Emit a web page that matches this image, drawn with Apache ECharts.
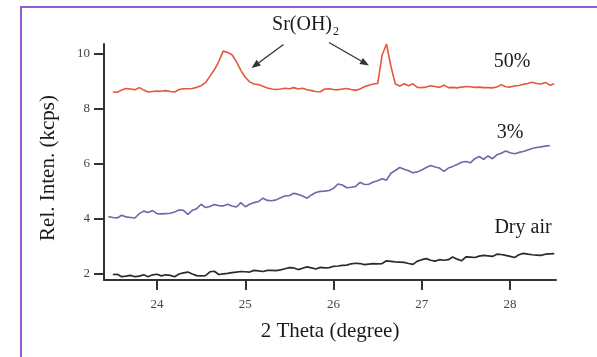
<!DOCTYPE html>
<html>
<head>
<meta charset="utf-8">
<script src="https://cdn.jsdelivr.net/npm/echarts@6/dist/echarts.min.js"></script>
<style>
  html, body { margin: 0; padding: 0; background: #fff; }
  #chart { width: 597px; height: 357px; }
</style>
</head>
<body>
<div id="chart"></div>
<script>
// 2 Theta sampling grid (degree)
const theta = [
  23.45, 23.50, 23.55, 23.60, 23.65, 23.70, 23.75, 23.80, 23.85, 23.90, 23.95,
  24.00, 24.05, 24.10, 24.15, 24.20, 24.25, 24.30, 24.35, 24.40, 24.45,
  24.50, 24.55, 24.60, 24.65, 24.70, 24.75, 24.80, 24.85, 24.90, 24.95,
  25.00, 25.05, 25.10, 25.15, 25.20, 25.25, 25.30, 25.35, 25.40, 25.45,
  25.50, 25.55, 25.60, 25.65, 25.70, 25.75, 25.80, 25.85, 25.90, 25.95,
  26.00, 26.05, 26.10, 26.15, 26.20, 26.25, 26.30, 26.35, 26.40, 26.45,
  26.50, 26.55, 26.60, 26.65, 26.70, 26.75, 26.80, 26.85, 26.90, 26.95,
  27.00, 27.05, 27.10, 27.15, 27.20, 27.25, 27.30, 27.35, 27.40, 27.45,
  27.50, 27.55, 27.60, 27.65, 27.70, 27.75, 27.80, 27.85, 27.90, 27.95,
  28.00, 28.05, 28.10, 28.15, 28.20, 28.25, 28.30, 28.35, 28.40, 28.45,
  28.50
];

// 50% humidity (kcps)
const rh50 = [
  null, 8.61, 8.60, 8.68, 8.74, 8.72, 8.69, 8.77, 8.68, 8.61, 8.63,
  8.65, 8.64, 8.66, 8.63, 8.61, 8.70, 8.73, 8.73, 8.74, 8.78,
  8.84, 8.95, 9.19, 9.42, 9.72, 10.10, 10.05, 9.97, 9.72, 9.40,
  9.15, 8.98, 8.90, 8.88, 8.82, 8.76, 8.72, 8.70, 8.72, 8.75,
  8.73, 8.77, 8.72, 8.75, 8.69, 8.66, 8.63, 8.62, 8.72, 8.73,
  8.70, 8.69, 8.72, 8.74, 8.70, 8.67, 8.72, 8.80, 8.86, 8.90,
  8.92, 9.95, 10.36, 9.55, 8.90, 8.83, 8.91, 8.84, 8.91, 8.78,
  8.77, 8.79, 8.84, 8.81, 8.78, 8.86, 8.77, 8.78, 8.76, 8.79,
  8.81, 8.80, 8.78, 8.79, 8.77, 8.77, 8.76, 8.79, 8.88, 8.80,
  8.79, 8.83, 8.85, 8.89, 8.92, 8.97, 8.92, 8.90, 8.96, 8.86,
  8.91
];

// 3% humidity (kcps)
const rh3 = [
  4.07, 4.04, 4.02, 4.12, 4.06, 4.04, 4.02, 4.18, 4.27, 4.22, 4.29,
  4.18, 4.17, 4.18, 4.19, 4.24, 4.31, 4.30, 4.15, 4.30, 4.36,
  4.52, 4.40, 4.44, 4.51, 4.47, 4.46, 4.52, 4.46, 4.42, 4.58,
  4.43, 4.52, 4.58, 4.62, 4.74, 4.66, 4.65, 4.68, 4.76, 4.82,
  4.84, 4.92, 4.88, 4.82, 4.74, 4.86, 4.95, 4.99, 5.00, 5.02,
  5.10, 5.26, 5.22, 5.12, 5.14, 5.17, 5.32, 5.24, 5.25, 5.33,
  5.38, 5.45, 5.40, 5.65, 5.75, 5.86, 5.80, 5.74, 5.67, 5.70,
  5.77, 5.86, 5.93, 5.88, 5.84, 5.72, 5.84, 5.90, 5.97, 6.05,
  6.08, 6.03, 6.18, 6.26, 6.16, 6.28, 6.18, 6.32, 6.38, 6.46,
  6.40, 6.36, 6.41, 6.44, 6.50, 6.55, 6.59, 6.61, 6.64, 6.66,
  null
];

// Dry air (kcps)
const dryAir = [
  null, 1.96, 1.97, 1.88, 1.90, 1.93, 1.88, 1.90, 1.95, 1.88, 1.95,
  1.97, 1.91, 1.95, 1.93, 1.88, 1.98, 2.02, 2.05, 1.98, 1.92,
  1.91, 1.92, 2.06, 2.08, 1.96, 1.98, 2.00, 2.03, 2.05, 2.07,
  2.06, 2.05, 2.11, 2.09, 2.07, 2.11, 2.11, 2.10, 2.13, 2.17,
  2.21, 2.20, 2.14, 2.19, 2.24, 2.20, 2.16, 2.22, 2.20, 2.21,
  2.26, 2.27, 2.29, 2.30, 2.35, 2.37, 2.36, 2.32, 2.34, 2.36,
  2.35, 2.36, 2.46, 2.44, 2.42, 2.41, 2.40, 2.36, 2.33, 2.45,
  2.50, 2.54, 2.48, 2.45, 2.50, 2.48, 2.50, 2.60, 2.52, 2.46,
  2.60, 2.59, 2.58, 2.63, 2.66, 2.64, 2.62, 2.70, 2.69, 2.66,
  2.62, 2.58, 2.68, 2.73, 2.70, 2.68, 2.67, 2.66, 2.70, 2.71,
  2.72
];

const xTicks = [24, 25, 26, 27, 28];
const yTicks = [2, 4, 6, 8, 10];

const FONT = '"Liberation Serif", "Times New Roman", serif';
const AXIS_COLOR = '#333';

const pairs = (ys) => theta.map((t, i) => [t, ys[i]]);

// small helper for the annotation arrows
function arrow(x1, y1, x2, y2) {
  const dx = x2 - x1, dy = y2 - y1;
  const len = Math.sqrt(dx * dx + dy * dy);
  const ux = dx / len, uy = dy / len;
  const hl = 9, hw = 3.5;
  const bx = x2 - ux * hl, by = y2 - uy * hl;
  return [
    { type: 'line', shape: { x1, y1, x2: bx, y2: by }, style: { stroke: '#333', lineWidth: 1.3 } },
    { type: 'polygon', shape: { points: [[x2, y2], [bx + uy * hw, by - ux * hw], [bx - uy * hw, by + ux * hw]] }, style: { fill: '#333' } }
  ];
}

const chart = echarts.init(document.getElementById('chart'));

const lineSeries = (name, ys, color, width) => ({
  name,
  type: 'line',
  data: pairs(ys),
  showSymbol: false,
  symbol: 'none',
  connectNulls: false,
  lineStyle: { color, width },
  itemStyle: { color },
  animation: false
});

chart.setOption({
  animation: false,
  grid: { left: 104, right: 41, top: 44, bottom: 77 },
  xAxis: {
    type: 'value',
    min: 23.4,
    max: 28.52,
    name: '2 Theta (degree)',
    nameLocation: 'middle',
    nameGap: 41,
    nameTextStyle: { fontFamily: FONT, fontSize: 21, color: '#1a1a1a' },
    axisLine: { lineStyle: { color: AXIS_COLOR, width: 2 } },
    axisTick: { customValues: xTicks, length: 10, lineStyle: { color: AXIS_COLOR, width: 2 } },
    axisLabel: { customValues: xTicks, margin: 18, fontFamily: FONT, fontSize: 13, color: '#444' },
    splitLine: { show: false }
  },
  yAxis: {
    type: 'value',
    min: 1.76,
    max: 10.36,
    axisLine: { show: true, lineStyle: { color: AXIS_COLOR, width: 2 } },
    axisTick: { show: true, customValues: yTicks, length: 10, lineStyle: { color: AXIS_COLOR, width: 2 } },
    axisLabel: { customValues: yTicks, margin: 14, fontFamily: FONT, fontSize: 13, color: '#444' },
    splitLine: { show: false }
  },
  series: [
    lineSeries('50%', rh50, '#e5573b', 1.6),
    lineSeries('3%', rh3, '#6b69a8', 1.6),
    lineSeries('Dry air', dryAir, '#2b2b2b', 1.7)
  ],
  graphic: [
    { type: 'rect', shape: { x: 21, y: 7, width: 590, height: 370 }, style: { fill: 'none', stroke: '#8f5bd6', lineWidth: 2 }, silent: true },
    { type: 'text', x: 48, y: 168, rotation: Math.PI / 2,
      style: { text: 'Rel. Inten. (kcps)', font: '21px ' + FONT, fill: '#1a1a1a', align: 'center', verticalAlign: 'middle' } },
    { type: 'text', x: 332, y: 25,
      style: { text: 'Sr(OH)', font: '20px ' + FONT, fill: '#1a1a1a', align: 'right', verticalAlign: 'middle' } },
    { type: 'text', x: 333, y: 32,
      style: { text: '2', font: '12px ' + FONT, fill: '#1a1a1a', align: 'left', verticalAlign: 'middle' } },
    ...arrow(283.5, 44.5, 251.5, 68),
    ...arrow(329, 42.5, 369, 65.5),
    { type: 'text', x: 512, y: 62,
      style: { text: '50%', font: '20px ' + FONT, fill: '#1a1a1a', align: 'center', verticalAlign: 'middle' } },
    { type: 'text', x: 510, y: 133,
      style: { text: '3%', font: '20px ' + FONT, fill: '#1a1a1a', align: 'center', verticalAlign: 'middle' } },
    { type: 'text', x: 523, y: 228,
      style: { text: 'Dry air', font: '20px ' + FONT, fill: '#1a1a1a', align: 'center', verticalAlign: 'middle' } }
  ]
});
</script>
</body>
</html>
